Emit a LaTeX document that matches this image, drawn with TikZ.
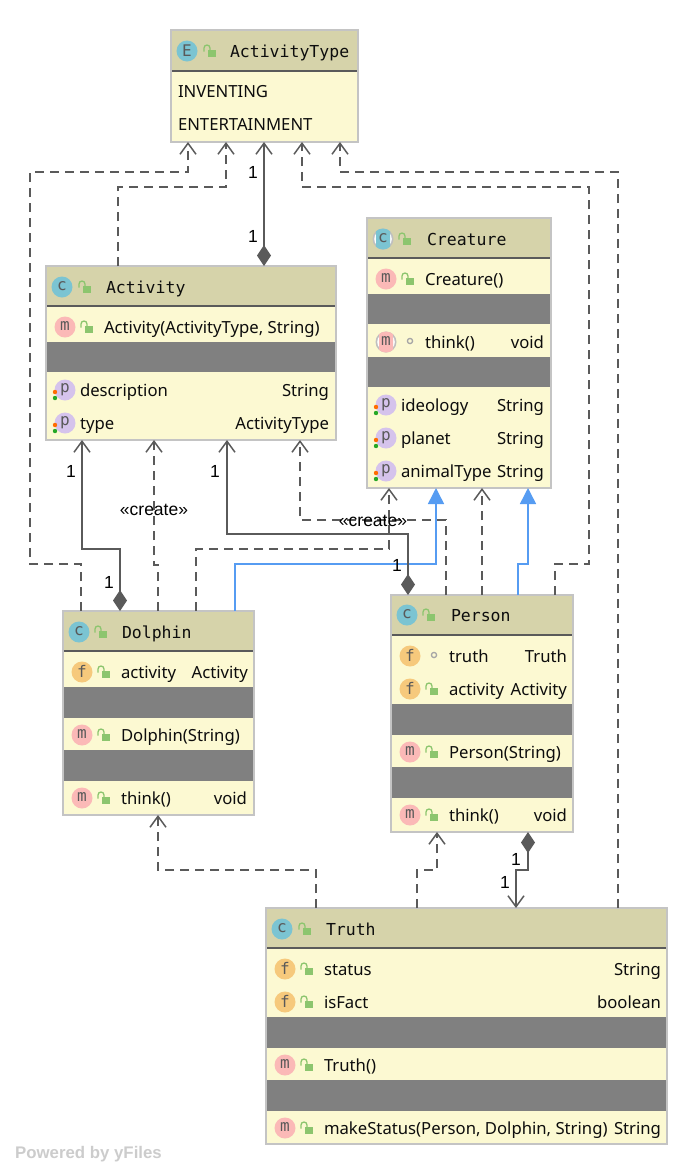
\documentclass[tikz,border=0pt]{standalone}
\usepackage{fontspec}
\setmainfont{Noto Sans}
\setmonofont{DejaVu Sans Mono}
\newfontfamily\arialf{Liberation Sans}
\usetikzlibrary{arrows.meta}
\definecolor{cream}{HTML}{FCF9D2}
\definecolor{headc}{HTML}{D6D3AA}
\definecolor{bandc}{HTML}{808080}
\definecolor{edgec}{HTML}{C4C4C4}
\definecolor{linec}{HTML}{5A5A5A}
\definecolor{inhc}{HTML}{569CF2}
\definecolor{lockc}{HTML}{8CC56E}
\definecolor{icc}{HTML}{7BC4D2}
\definecolor{icm}{HTML}{FBB9B7}
\definecolor{icf}{HTML}{F6C97C}
\definecolor{icp}{HTML}{D5C3EC}
\definecolor{ice}{HTML}{7BC4D2}
\newcount\nodeno
\newcommand{\nextno}{\global\advance\nodeno by 1 }
\tikzset{
  classbox/.style={draw=edgec,line width=2pt,fill=cream,inner sep=0pt,outer sep=0pt},
  rowtext/.style={font=\fontsize{16.7}{18}\selectfont,text=black!95,inner sep=0pt,outer sep=0pt},
  headtext/.style={font=\ttfamily\fontsize{16.5}{18}\selectfont,text=black!95,inner sep=0pt,outer sep=0pt,anchor=base west},
  conlabel/.style={font=\arialf\fontsize{17.5}{18}\selectfont,text=black,inner sep=0pt,outer sep=0pt},
  dep/.style={draw=linec,line width=1.5pt,dash pattern=on 9pt off 6pt,-{Straight Barb[length=11pt,width=16pt,line width=1.5pt]}},
  assoc/.style={draw=linec,line width=1.5pt,{Diamond[length=21pt,width=14pt,fill=linec]}-{Straight Barb[length=11pt,width=16pt,line width=1.5pt]}},
  compo/.style={draw=linec,line width=1.5pt,{Diamond[length=21pt,width=14pt,fill=linec]}-{Straight Barb[length=11pt,width=16pt,line width=1.5pt]}},
  inh/.style={draw=inhc,line width=1.5pt,-{Triangle[length=16pt,width=16pt,fill=inhc]}},
  icontext/.style={font=\ttfamily\fontsize{16}{16}\selectfont,text=black!65,inner sep=0pt,outer sep=0pt}
}
% name, x0,y0,x1,y1, header bottom
\newcommand{\classframe}[6]{%
  \node[classbox,minimum width={(#4-#2)*1pt},minimum height={(#5-#3)*1pt}] (#1) at ({(#2+#4)/2},{(#3+#5)/2}) {};
  \fill[headc] (#2+1,#3+1) rectangle (#4-1,#6);
  \draw[linec,line width=1.2pt] (#2+1,#6) -- (#4-1,#6);
}
% x0,x1,y0,y1
\newcommand{\band}[4]{\fill[bandc] (#1+1,#3) rectangle (#2-1,#4);}
\newcommand{\lockicon}[2]{%
  \fill[lockc] (#1-2,#2) rectangle (#1+6,#2+6.5);
  \draw[lockc,line width=1.3pt] (#1-6,#2+1.5) -- (#1-6,#2-2) arc[start angle=180,end angle=360,radius=3] -- (#1,#2);
}
\newcommand{\cicon}[4]{%
  \nextno
  \fill[#3] (#1,#2) circle[radius=10.5];
  \node[icontext] (i\the\nodeno) at (#1,#2-0.5) {#4};
}
\newcommand{\staticmark}[2]{\draw[black!35,line width=1.3pt] (#1,#2) circle[radius=2.6];}
\newcommand{\propdots}[2]{%
  \fill[orange!85!red] (#1,#2+2) circle[radius=2.2];
  \fill[green!60!black!85] (#1,#2+8) circle[radius=2.2];
}
\newcommand{\ltext}[3]{\nextno\node[rowtext,anchor=base west] (t\the\nodeno) at (#1,#2+6) {#3};}
\newcommand{\rtext}[3]{\nextno\node[rowtext,anchor=base east] (t\the\nodeno) at (#1,#2+6) {#3};}
\newcommand{\htext}[3]{\nextno\node[headtext] (t\the\nodeno) at (#1,#2+6) {#3};}
% member with lock: circle x, y, colour, letter, text x, text
\newcommand{\memb}[6]{\cicon{#1}{#2}{#3}{#4}\lockicon{#1+22}{#2-1}\ltext{#5}{#2}{#6}}
\newcommand{\prop}[3]{\cicon{#1}{#2}{icp}{p}\propdots{#1-10}{#2}\ltext{#1+15}{#2}{#3}}
\begin{document}
\begin{tikzpicture}[x=1pt,y=-1pt]
\useasboundingbox (0,0) rectangle (699,1176);
\fill[white] (0,0) rectangle (699,1176);

% ActivityType
\classframe{activitytype}{171}{30}{358}{142}{71}
\cicon{187}{51}{ice}{E}
\lockicon{210}{50}
\htext{230}{51}{ActivityType}
\ltext{178}{91}{INVENTING}
\ltext{178}{124}{ENTERTAINMENT}

% Activity
\classframe{activity}{46}{266}{336}{440}{306}
\cicon{62}{287}{icc}{c}
\lockicon{85}{286}
\htext{106}{287}{Activity}
\memb{65}{327}{icm}{m}{104}{Activity(ActivityType, String)}
\band{46}{336}{342}{372}
\prop{65}{390}{description}
\rtext{329}{390}{String}
\prop{65}{423}{type}
\rtext{329}{423}{ActivityType}

% Creature
\classframe{creature}{367}{218}{551}{488}{258}
\fill[black!25] (383,239) circle[radius=10.5];
\fill[white] (383,239) circle[radius=8.8];
\begin{scope}
\clip (376,228) rectangle (390,250);
\fill[icc] (383,239) circle[radius=10.5];
\end{scope}
\nextno\node[icontext] (i\the\nodeno) at (383,238.5) {c};
\lockicon{405}{238}
\htext{427}{239}{Creature}
\memb{386}{279}{icm}{m}{425}{Creature()}
\band{367}{551}{294}{324}
\fill[black!25] (386,342) circle[radius=10.5];
\fill[white] (386,342) circle[radius=8.8];
\begin{scope}
\clip (379,331) rectangle (393,353);
\fill[icm] (386,342) circle[radius=10.5];
\end{scope}
\nextno\node[icontext] (i\the\nodeno) at (386,341.5) {m};
\staticmark{410}{341}
\ltext{425}{342}{think()}
\rtext{544}{342}{void}
\band{367}{551}{357}{387}
\prop{386}{405}{ideology}
\rtext{544}{405}{String}
\prop{386}{438}{planet}
\rtext{544}{438}{String}
\prop{386}{471}{animalType}
\rtext{544}{471}{String}

% Dolphin
\classframe{dolphin}{63}{611}{254}{815}{651}
\cicon{79}{632}{icc}{c}
\lockicon{101}{631}
\htext{122}{632}{Dolphin}
\memb{82}{672}{icf}{f}{121}{activity}
\rtext{248}{672}{Activity}
\band{63}{254}{687}{718}
\memb{82}{735}{icm}{m}{121}{Dolphin(String)}
\band{63}{254}{750}{781}
\memb{82}{798}{icm}{m}{121}{think()}
\rtext{247}{798}{void}

% Person
\classframe{person}{391}{595}{573}{832}{635}
\cicon{407}{615}{icc}{c}
\lockicon{429}{614}
\htext{451}{615}{Person}
\cicon{410}{656}{icf}{f}
\staticmark{434}{655}
\ltext{449}{656}{truth}
\rtext{567}{656}{Truth}
\memb{410}{689}{icf}{f}{449}{activity}
\rtext{567}{689}{Activity}
\band{391}{573}{704}{735}
\memb{410}{752}{icm}{m}{449}{Person(String)}
\band{391}{573}{767}{798}
\memb{410}{815}{icm}{m}{449}{think()}
\rtext{567}{815}{void}

% Truth
\classframe{truth}{266}{908}{667}{1144}{948}
\cicon{282}{929}{icc}{c}
\lockicon{305}{928}
\htext{326}{929}{Truth}
\memb{285}{969}{icf}{f}{324}{status}
\rtext{661}{969}{String}
\memb{285}{1002}{icf}{f}{324}{isFact}
\rtext{661}{1002}{boolean}
\band{266}{667}{1017}{1048}
\memb{285}{1065}{icm}{m}{324}{Truth()}
\band{266}{667}{1080}{1111}
\memb{285}{1128}{icm}{m}{324}{makeStatus(Person, Dolphin, String)}
\rtext{661}{1128}{String}

% Connectors to ActivityType
\draw[dep] (dolphin.north -| 81,0) -- (81,564) -- (30,564) -- (30,172) -- (188,172) -- (activitytype.south -| 188,0);
\draw[dep] (activity.north -| 118,0) -- (118,187) -- (226,187) -- (activitytype.south -| 226,0);
\draw[assoc] (activity.north -| 264,0) -- (activitytype.south -| 264,0);
\draw[dep] (person.north -| 555,0) -- (555,564) -- (589,564) -- (589,187) -- (302,187) -- (activitytype.south -| 302,0);
\draw[dep] (truth.north -| 618,0) -- (618,172) -- (340,172) -- (activitytype.south -| 340,0);

% Dolphin connectors
\draw[assoc] (dolphin.north -| 120,0) -- (120,549) -- (82,549) -- (activity.south -| 82,0);
\draw[dep] (dolphin.north -| 158,0) -- (158,565) -- (154,565) -- (activity.south -| 154,0);
\draw[dep] (dolphin.north -| 196,0) -- (196,549) -- (389,549) -- (creature.south -| 389,0);
\draw[inh] (dolphin.north -| 235,0) -- (235,564) -- (436,564) -- (creature.south -| 436,0);

% Person connectors
\draw[assoc] (person.north -| 408,0) -- (408,534) -- (227,534) -- (activity.south -| 227,0);
\draw[dep] (person.north -| 446,0) -- (446,520) -- (300,520) -- (activity.south -| 300,0);
\draw[dep] (person.north -| 482,0) -- (creature.south -| 482,0);
\draw[inh] (person.north -| 518,0) -- (518,564) -- (528,564) -- (creature.south -| 528,0);

% Truth connectors
\draw[dep] (truth.north -| 316,0) -- (316,870) -- (158,870) -- (dolphin.south -| 158,0);
\draw[dep] (truth.north -| 417,0) -- (417,870) -- (437,870) -- (person.south -| 437,0);
\draw[assoc] (person.south -| 528,0) -- (528,870) -- (516,870) -- (truth.north -| 516,0);

% Labels
\node[conlabel] (l1) at (253,172) {1};
\node[conlabel] (l2) at (253,236) {1};
\node[conlabel] (l3) at (71,471) {1};
\node[conlabel] (l4) at (109,582) {1};
\node[conlabel] (l5) at (215,471) {1};
\node[conlabel] (l6) at (397,565) {1};
\node[conlabel] (l7) at (516,859) {1};
\node[conlabel] (l8) at (505,882) {1};
\node[conlabel] (l9) at (154,510) {«create»};
\node[conlabel] (l10) at (373,521) {«create»};
\node[font=\arialf\bfseries\fontsize{16.8}{18}\selectfont,text=black!20,inner sep=0pt,anchor=base west] (powered) at (15,1158) {Powered by yFiles};
\end{tikzpicture}
\end{document}
